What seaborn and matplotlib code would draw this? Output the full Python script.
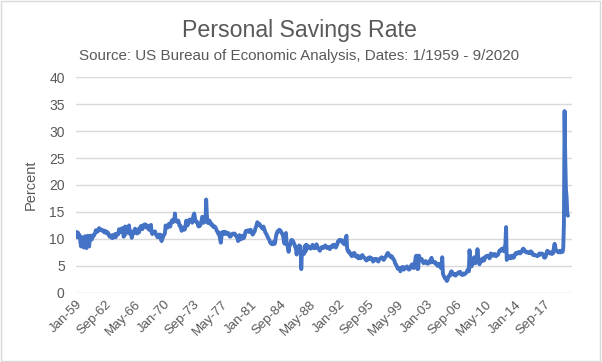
import numpy as np
import pandas as pd
import matplotlib
matplotlib.use("Agg")
import matplotlib.pyplot as plt
import seaborn as sns
from matplotlib.patches import Rectangle

# Monthly personal savings rate (%), Jan 1959 - Sep 2020
rate_1959 = [11.3, 10.6, 10.3, 11.2, 10.6, 10.8, 10.5, 9.2, 8.6, 10.1, 10.3, 9.4]
rate_1960s = [
    8.4, 9.8, 10.5, 9.1, 8.3, 10.2, 10.6, 10.2, 8.6, 10.0, 10.6, 10.2,
    9.9, 10.3, 10.7, 10.6, 10.8, 11.1, 11.6, 11.5, 11.3, 11.4, 11.8, 12.0,
    11.9, 11.8, 11.6, 11.6, 11.5, 11.6, 11.5, 11.2, 11.5, 11.2, 11.3, 11.0,
    11.2, 11.0, 10.6, 10.4, 10.5, 10.6, 10.2, 10.7, 10.2, 10.5, 10.7, 10.9,
    10.3, 10.8, 11.0, 10.8, 10.9, 11.8, 11.6, 11.7, 11.3, 11.9, 12.0, 11.6,
    10.4, 11.9, 12.3, 10.9, 12.2, 12.0, 11.8, 12.0, 12.5, 11.0, 10.9, 11.4,
    10.2, 10.8, 11.3, 11.0, 11.6, 11.9, 11.4, 11.3, 11.0, 11.6, 11.8, 11.2,
    11.8, 12.2, 12.4, 12.2, 11.8, 12.3, 12.6, 12.4, 12.7, 12.5, 12.1, 12.5,
    12.1, 12.4, 11.7, 12.2, 12.0, 12.6, 11.2, 10.9, 11.3, 11.1, 11.1, 11.4,
    11.0, 10.7, 10.5, 10.3, 10.5, 10.8, 10.5, 10.8, 9.9, 9.6, 10.0, 10.3,
]
rate_1970s = [
    10.7, 10.8, 11.1, 12.5, 12.3, 12.2, 12.1, 12.6, 12.8, 12.3, 12.3, 13.0,
    13.3, 13.5, 13.1, 13.2, 13.4, 14.7, 13.3, 13.4, 13.2, 13.1, 13.4, 13.0,
    12.4, 12.5, 12.1, 11.5, 11.8, 12.1, 12.1, 11.7, 11.8, 12.5, 13.4, 12.9,
    12.5, 12.9, 13.3, 13.6, 13.3, 13.3, 13.6, 13.0, 13.7, 14.4, 14.7, 14.0,
    13.3, 13.2, 13.2, 12.9, 12.4, 12.3, 12.7, 12.5, 12.9, 13.4, 14.1, 14.0,
    13.0, 13.1, 13.5, 13.6, 17.3, 14.5, 13.0, 13.2, 13.0, 13.4, 13.1, 12.7,
    12.6, 12.7, 12.4, 12.2, 12.3, 12.3, 12.1, 11.8, 11.5, 11.3, 11.0, 11.2,
    10.6, 9.9, 9.3, 10.4, 11.2, 11.1, 11.3, 10.9, 11.0, 11.3, 11.1, 10.9,
    11.1, 11.1, 11.0, 10.5, 10.4, 10.5, 10.7, 10.9, 11.0, 10.9, 10.9, 11.0,
    10.7, 10.5, 10.4, 10.1, 9.6, 10.5, 10.7, 10.1, 9.9, 10.3, 10.5, 10.6,
]
rate_1980s = [
    10.1, 10.3, 10.6, 11.3, 11.5, 11.4, 11.5, 11.6, 11.3, 11.5, 11.6, 11.7,
    11.2, 11.0, 10.8, 11.0, 11.3, 11.4, 12.0, 12.2, 12.7, 13.1, 12.9, 12.6,
    12.8, 12.6, 12.3, 12.2, 12.0, 11.9, 12.3, 11.9, 11.6, 11.2, 11.0, 10.8,
    10.5, 10.2, 10.0, 9.8, 9.4, 9.2, 9.1, 9.3, 9.0, 9.2, 9.5, 9.1,
    9.6, 10.5, 11.0, 11.3, 11.5, 11.4, 11.7, 11.6, 11.5, 11.2, 11.0, 10.9,
    10.3, 9.4, 9.1, 10.2, 11.1, 9.2, 9.0, 8.2, 7.6, 8.7, 8.8, 9.2,
    9.8, 9.8, 9.7, 9.5, 9.2, 8.9, 8.4, 8.4, 7.1, 8.3, 8.4, 7.7,
    8.8, 8.4, 8.5, 4.4, 7.6, 7.4, 7.3, 7.2, 7.5, 8.8, 7.8, 8.9,
    8.4, 8.5, 8.6, 8.3, 8.3, 8.2, 8.5, 8.7, 8.9, 8.4, 8.3, 8.4,
    8.3, 8.8, 9.0, 8.7, 8.3, 8.2, 8.0, 7.8, 8.1, 8.3, 8.5, 8.4,
]
rate_1990s = [
    8.3, 8.5, 8.6, 8.8, 8.6, 8.5, 8.3, 8.3, 8.5, 8.3, 8.1, 8.5,
    8.6, 8.7, 8.5, 8.9, 8.9, 8.7, 8.8, 8.4, 8.7, 8.9, 9.5, 9.5,
    9.8, 9.7, 9.6, 9.8, 9.5, 9.6, 9.2, 9.1, 9.0, 9.8, 10.2, 10.6,
    8.2, 7.8, 7.6, 7.7, 7.3, 7.2, 7.0, 6.8, 7.3, 7.0, 7.1, 7.4,
    6.8, 6.9, 6.7, 6.6, 6.9, 6.4, 6.5, 6.7, 6.4, 6.8, 6.9, 7.0,
    6.7, 6.6, 6.5, 6.3, 6.1, 6.0, 6.3, 6.4, 6.2, 6.5, 6.6, 6.4,
    6.3, 6.4, 6.2, 5.8, 6.1, 6.2, 6.3, 6.1, 6.3, 6.0, 5.9, 5.8,
    6.2, 6.3, 6.4, 6.5, 6.6, 6.4, 6.2, 6.1, 6.4, 6.5, 6.7, 6.9,
    7.2, 7.4, 7.3, 7.1, 6.9, 6.7, 6.6, 6.8, 6.6, 6.3, 6.2, 6.0,
    5.5, 5.3, 5.2, 4.8, 4.5, 4.6, 4.4, 4.5, 4.0, 4.6, 4.7, 4.5,
]
rate_2000s = [
    4.8, 4.3, 4.4, 4.6, 4.7, 4.8, 4.9, 4.7, 4.4, 4.3, 4.4, 4.6,
    5.0, 5.2, 5.3, 4.8, 4.6, 4.8, 5.6, 6.6, 6.9, 4.6, 4.4, 4.5,
    6.9, 6.4, 6.2, 6.1, 6.3, 6.0, 5.7, 5.5, 5.6, 5.8, 5.9, 5.6,
    5.5, 5.4, 5.6, 5.7, 5.9, 5.6, 6.3, 6.5, 5.8, 5.7, 5.8, 5.6,
    5.7, 5.4, 5.5, 5.2, 5.0, 5.3, 5.4, 5.2, 4.9, 4.6, 5.0, 6.6,
    3.6, 3.2, 3.0, 2.7, 2.6, 2.5, 2.2, 2.4, 3.0, 3.1, 3.3, 3.2,
    3.9, 4.0, 3.8, 3.5, 3.4, 3.5, 3.3, 3.2, 3.4, 3.6, 3.5, 3.6,
    3.8, 3.7, 3.9, 3.5, 3.4, 3.3, 3.5, 3.6, 3.4, 3.5, 3.6, 3.7,
    3.9, 4.2, 4.4, 4.0, 7.9, 6.6, 5.5, 4.9, 5.2, 5.6, 6.2, 6.6,
    6.0, 5.5, 5.6, 6.7, 8.1, 6.8, 6.1, 5.3, 5.8, 5.9, 6.1, 5.9,
]
rate_2010s = [
    6.4, 6.2, 6.0, 6.4, 6.7, 6.8, 6.8, 6.9, 6.8, 6.7, 6.4, 6.6,
    7.3, 7.2, 7.0, 6.9, 6.9, 7.2, 7.2, 6.9, 6.8, 7.0, 7.0, 7.1,
    7.5, 7.8, 7.7, 8.0, 8.1, 8.2, 8.0, 7.8, 7.7, 8.5, 9.0, 12.2,
    6.1, 6.3, 6.4, 6.5, 6.8, 6.7, 6.4, 6.6, 6.9, 6.7, 6.5, 6.6,
    7.0, 7.3, 7.4, 7.2, 7.4, 7.5, 7.5, 7.6, 7.3, 7.4, 7.6, 7.8,
    8.1, 8.2, 7.8, 7.9, 7.7, 7.5, 7.6, 7.5, 7.5, 7.4, 7.5, 7.4,
    7.7, 7.4, 7.5, 7.1, 7.0, 7.1, 7.0, 7.0, 6.9, 6.9, 6.8, 6.9,
    7.0, 7.3, 7.3, 7.1, 7.2, 7.3, 7.2, 7.1, 6.6, 6.5, 6.6, 6.9,
    7.5, 7.8, 7.7, 7.6, 7.4, 7.3, 7.5, 7.5, 7.2, 7.3, 7.4, 8.5,
    9.1, 8.5, 7.9, 7.8, 7.7, 7.6, 7.5, 7.6, 7.8, 7.5, 7.6, 7.6,
]
rate_2020 = [7.6, 8.3, 12.8, 33.7, 24.8, 19.2, 17.8, 14.8, 14.3]

tick_labels = ["Jan-59", "Sep-62", "May-66", "Jan-70", "Sep-73", "May-77",
               "Jan-81", "Sep-84", "May-88", "Jan-92", "Sep-95", "May-99",
               "Jan-03", "Sep-06", "May-10", "Jan-14", "Sep-17"]

rate = rate_1959 + rate_1960s + rate_1970s + rate_1980s + rate_1990s + rate_2000s + rate_2010s + rate_2020
df = pd.DataFrame({"month": np.arange(len(rate)), "rate": rate})

sns.set_style("white")
plt.rcParams["font.family"] = ["Liberation Sans", "DejaVu Sans"]

gray = "#595959"
fig = plt.figure(figsize=(6.02, 3.62), dpi=100)
ax = fig.add_axes([0.126, 0.191, 0.824, 0.596])

sns.lineplot(data=df, x="month", y="rate", color="#4472C4", linewidth=2.8, ax=ax)

ax.set_xlim(0, 746)
ax.set_ylim(0, 40)
ax.set_yticks(range(0, 41, 5))
ax.set_xticks(np.arange(len(tick_labels)) * 44)
ax.set_xticklabels(tick_labels, rotation=45, ha="right", va="top",
                   rotation_mode="anchor", fontsize=9.5, color=gray)
ax.tick_params(axis="y", labelsize=10, labelcolor=gray, length=0, pad=8)
ax.tick_params(axis="x", length=0, pad=4)
ax.yaxis.grid(True, color="#D9D9D9", linewidth=1)
for s in ax.spines.values():
    s.set_visible(False)
ax.set_xlabel("")
ax.set_ylabel("Percent", fontsize=10.5, color=gray, labelpad=8)

fig.text(0.497, 0.915, "Personal Savings Rate", ha="center", va="center",
         fontsize=16.7, color=gray)
fig.text(0.497, 0.845, "Source: US Bureau of Economic Analysis, Dates: 1/1959 - 9/2020",
         ha="center", va="center", fontsize=10.9, color=gray)

fig.patches.append(Rectangle((0.002, 0.003), 0.995, 0.994, transform=fig.transFigure,
                             fill=False, edgecolor="#D9D9D9", linewidth=1))

fig.savefig("out.png", dpi=100)
